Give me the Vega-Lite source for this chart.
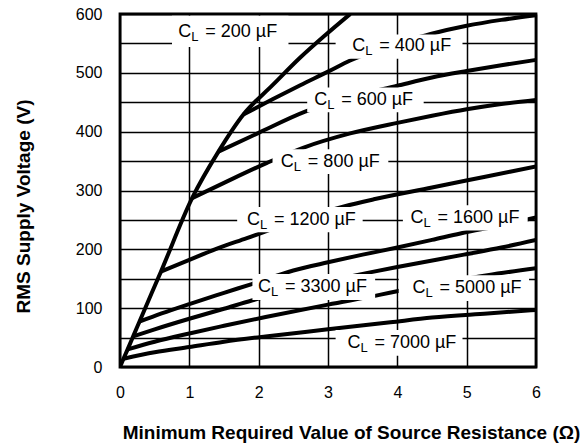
{
  "$schema": "https://vega.github.io/schema/vega-lite/v6.json",
  "width": 416,
  "height": 353,
  "autosize": {"type": "none"},
  "padding": {"left": 120, "top": 14, "right": 51, "bottom": 80},
  "background": "white",
  "config": {
    "view": {"stroke": "black", "strokeWidth": 2.8},
    "font": "Liberation Sans",
    "axis": {
      "grid": true,
      "gridColor": "black",
      "gridOpacity": 1,
      "gridWidth": 1.5,
      "ticks": false,
      "tickSize": 0,
      "domain": false,
      "labelColor": "black",
      "labelFontSize": 16,
      "labelFont": "Liberation Sans",
      "titleFont": "Liberation Sans",
      "titleColor": "black",
      "titleFontWeight": "bold",
      "titleFontSize": 19
    }
  },
  "datasets": {
    "curves": [
      {"c": "200", "x": 0, "v": 0}, {"c": "200", "x": 0.05, "v": 14}, {"c": "200", "x": 0.11, "v": 30}, {"c": "200", "x": 0.19, "v": 52}, {"c": "200", "x": 0.28, "v": 77}, {"c": "200", "x": 0.59, "v": 162}, {"c": "200", "x": 1.04, "v": 287}, {"c": "200", "x": 1.42, "v": 366}, {"c": "200", "x": 1.78, "v": 429}, {"c": "200", "x": 2.2, "v": 479}, {"c": "200", "x": 2.6, "v": 526}, {"c": "200", "x": 2.95, "v": 563}, {"c": "200", "x": 3.32, "v": 600},
      {"c": "400", "x": 1.78, "v": 429}, {"c": "400", "x": 2.2, "v": 455}, {"c": "400", "x": 2.6, "v": 479}, {"c": "400", "x": 3.0, "v": 502}, {"c": "400", "x": 3.32, "v": 521}, {"c": "400", "x": 3.7, "v": 538}, {"c": "400", "x": 4.1, "v": 553}, {"c": "400", "x": 4.48, "v": 566}, {"c": "400", "x": 5.0, "v": 580}, {"c": "400", "x": 5.5, "v": 590}, {"c": "400", "x": 6.0, "v": 598},
      {"c": "600", "x": 1.42, "v": 366}, {"c": "600", "x": 2.0, "v": 398}, {"c": "600", "x": 2.67, "v": 434}, {"c": "600", "x": 3.3, "v": 458}, {"c": "600", "x": 4.0, "v": 478}, {"c": "600", "x": 4.5, "v": 492}, {"c": "600", "x": 5.0, "v": 503}, {"c": "600", "x": 5.5, "v": 513}, {"c": "600", "x": 6.0, "v": 522},
      {"c": "800", "x": 1.04, "v": 287}, {"c": "800", "x": 1.5, "v": 313}, {"c": "800", "x": 2.12, "v": 347}, {"c": "800", "x": 2.65, "v": 373}, {"c": "800", "x": 3.32, "v": 397}, {"c": "800", "x": 4.0, "v": 415}, {"c": "800", "x": 4.5, "v": 427}, {"c": "800", "x": 5.0, "v": 438}, {"c": "800", "x": 5.5, "v": 447}, {"c": "800", "x": 6.0, "v": 454},
      {"c": "1200", "x": 0.59, "v": 162}, {"c": "1200", "x": 1.0, "v": 182}, {"c": "1200", "x": 1.37, "v": 200}, {"c": "1200", "x": 1.83, "v": 219}, {"c": "1200", "x": 2.5, "v": 247}, {"c": "1200", "x": 3.23, "v": 273}, {"c": "1200", "x": 3.66, "v": 285}, {"c": "1200", "x": 4.5, "v": 305}, {"c": "1200", "x": 5.25, "v": 323}, {"c": "1200", "x": 6.0, "v": 341},
      {"c": "1600", "x": 0.28, "v": 77}, {"c": "1600", "x": 0.6, "v": 91}, {"c": "1600", "x": 1.0, "v": 107}, {"c": "1600", "x": 1.5, "v": 126}, {"c": "1600", "x": 1.9, "v": 141}, {"c": "1600", "x": 2.5, "v": 164}, {"c": "1600", "x": 3.0, "v": 178}, {"c": "1600", "x": 3.5, "v": 191}, {"c": "1600", "x": 4.0, "v": 203}, {"c": "1600", "x": 4.5, "v": 216}, {"c": "1600", "x": 4.91, "v": 227}, {"c": "1600", "x": 5.5, "v": 241}, {"c": "1600", "x": 6.0, "v": 254},
      {"c": "3300", "x": 0.19, "v": 52}, {"c": "3300", "x": 0.5, "v": 64}, {"c": "3300", "x": 1.0, "v": 82}, {"c": "3300", "x": 1.5, "v": 99}, {"c": "3300", "x": 1.9, "v": 113}, {"c": "3300", "x": 2.5, "v": 131}, {"c": "3300", "x": 3.0, "v": 146}, {"c": "3300", "x": 3.57, "v": 160}, {"c": "3300", "x": 4.0, "v": 170}, {"c": "3300", "x": 4.96, "v": 191}, {"c": "3300", "x": 5.5, "v": 203}, {"c": "3300", "x": 6.0, "v": 216},
      {"c": "5000", "x": 0.11, "v": 30}, {"c": "5000", "x": 0.5, "v": 43}, {"c": "5000", "x": 1.0, "v": 57}, {"c": "5000", "x": 1.5, "v": 70}, {"c": "5000", "x": 2.1, "v": 85}, {"c": "5000", "x": 3.0, "v": 106}, {"c": "5000", "x": 3.76, "v": 123}, {"c": "5000", "x": 4.05, "v": 130}, {"c": "5000", "x": 4.7, "v": 144}, {"c": "5000", "x": 5.3, "v": 156}, {"c": "5000", "x": 6.0, "v": 168},
      {"c": "7000", "x": 0.05, "v": 14}, {"c": "7000", "x": 0.5, "v": 25}, {"c": "7000", "x": 1.0, "v": 34}, {"c": "7000", "x": 1.5, "v": 43}, {"c": "7000", "x": 2.1, "v": 52}, {"c": "7000", "x": 3.0, "v": 64}, {"c": "7000", "x": 3.9, "v": 76}, {"c": "7000", "x": 4.5, "v": 84}, {"c": "7000", "x": 5.3, "v": 91}, {"c": "7000", "x": 6.0, "v": 97}
    ],
    "labels": [
      {"c": "200", "rest": "= 200 µF", "x": 0.84, "v": 570},
      {"c": "400", "rest": "= 400 µF", "x": 3.35, "v": 545},
      {"c": "600", "rest": "= 600 µF", "x": 2.8, "v": 454},
      {"c": "800", "rest": "= 800 µF", "x": 2.32, "v": 349},
      {"c": "1200", "rest": "= 1200 µF", "x": 1.83, "v": 250},
      {"c": "1600", "rest": "= 1600 µF", "x": 4.19, "v": 253},
      {"c": "3300", "rest": "= 3300 µF", "x": 1.99, "v": 136},
      {"c": "5000", "rest": "= 5000 µF", "x": 4.22, "v": 134},
      {"c": "7000", "rest": "= 7000 µF", "x": 3.28, "v": 41}
    ],
    "boxes": [
      {"c": "200", "x": 0.75, "x1": 2.43, "v": 544, "v1": 597},
      {"c": "400", "x": 3.11, "x1": 4.94, "v": 524, "v1": 565},
      {"c": "600", "x": 2.7, "x1": 4.38, "v": 433, "v1": 475},
      {"c": "800", "x": 2.2, "x1": 3.87, "v": 328, "v1": 370},
      {"c": "1200", "x": 1.69, "x1": 3.5, "v": 229, "v1": 272},
      {"c": "1600", "x": 4.08, "x1": 5.88, "v": 232, "v1": 275},
      {"c": "3300", "x": 1.91, "x1": 3.68, "v": 114, "v1": 158},
      {"c": "5000", "x": 4.02, "x1": 5.9, "v": 112, "v1": 156},
      {"c": "7000", "x": 3.11, "x1": 4.94, "v": 19, "v1": 63}
    ]
  },
  "encoding": {
    "x": {
      "field": "x", "type": "quantitative",
      "scale": {"domain": [0, 6], "nice": false},
      "axis": {
        "values": [0, 0.5, 1, 1.5, 2, 2.5, 3, 3.5, 4, 4.5, 5, 5.5, 6],
        "format": "d",
        "labelExpr": "datum.value % 1 == 0 ? datum.label : ''",
        "labelPadding": 17,
        "labelFlush": false,
        "labelOverlap": false,
        "title": "Minimum Required Value of Source Resistance (Ω)",
        "titleX": 231,
        "titleY": 71,
        "titleBaseline": "alphabetic",
        "titleAlign": "center"
      }
    },
    "y": {
      "field": "v", "type": "quantitative",
      "scale": {"domain": [0, 600], "nice": false},
      "axis": {
        "values": [0, 50, 100, 150, 200, 250, 300, 350, 400, 450, 500, 550, 600],
        "labelExpr": "datum.value % 100 == 0 ? datum.label : ''",
        "labelPadding": 18,
        "labelFlush": false,
        "labelOverlap": false,
        "title": "RMS Supply Voltage (V)",
        "titleX": -97,
        "titleY": 192,
        "titleBaseline": "middle",
        "titleAlign": "center",
        "titleAngle": -90
      }
    }
  },
  "layer": [
    {
      "data": {"name": "curves"},
      "mark": {"type": "line", "interpolate": "monotone", "color": "black", "strokeWidth": 4, "clip": true},
      "encoding": {
        "detail": {"field": "c"}
      }
    },
    {
      "data": {"name": "boxes"},
      "mark": {"type": "rect", "fill": "white", "stroke": null},
      "encoding": {
        "x2": {"field": "x1"},
        "y2": {"field": "v1"}
      }
    },
    {
      "data": {"name": "labels"},
      "mark": {"type": "text", "text": "C", "align": "left", "baseline": "middle", "fontSize": 18, "color": "black", "font": "Liberation Sans"}
    },
    {
      "data": {"name": "labels"},
      "mark": {"type": "text", "text": "L", "align": "left", "baseline": "middle", "fontSize": 13, "dx": 13, "dy": 5, "color": "black", "font": "Liberation Sans"}
    },
    {
      "data": {"name": "labels"},
      "mark": {"type": "text", "align": "left", "baseline": "middle", "fontSize": 18, "dx": 27, "color": "black", "font": "Liberation Sans"},
      "encoding": {
        "text": {"field": "rest"}
      }
    }
  ]
}
